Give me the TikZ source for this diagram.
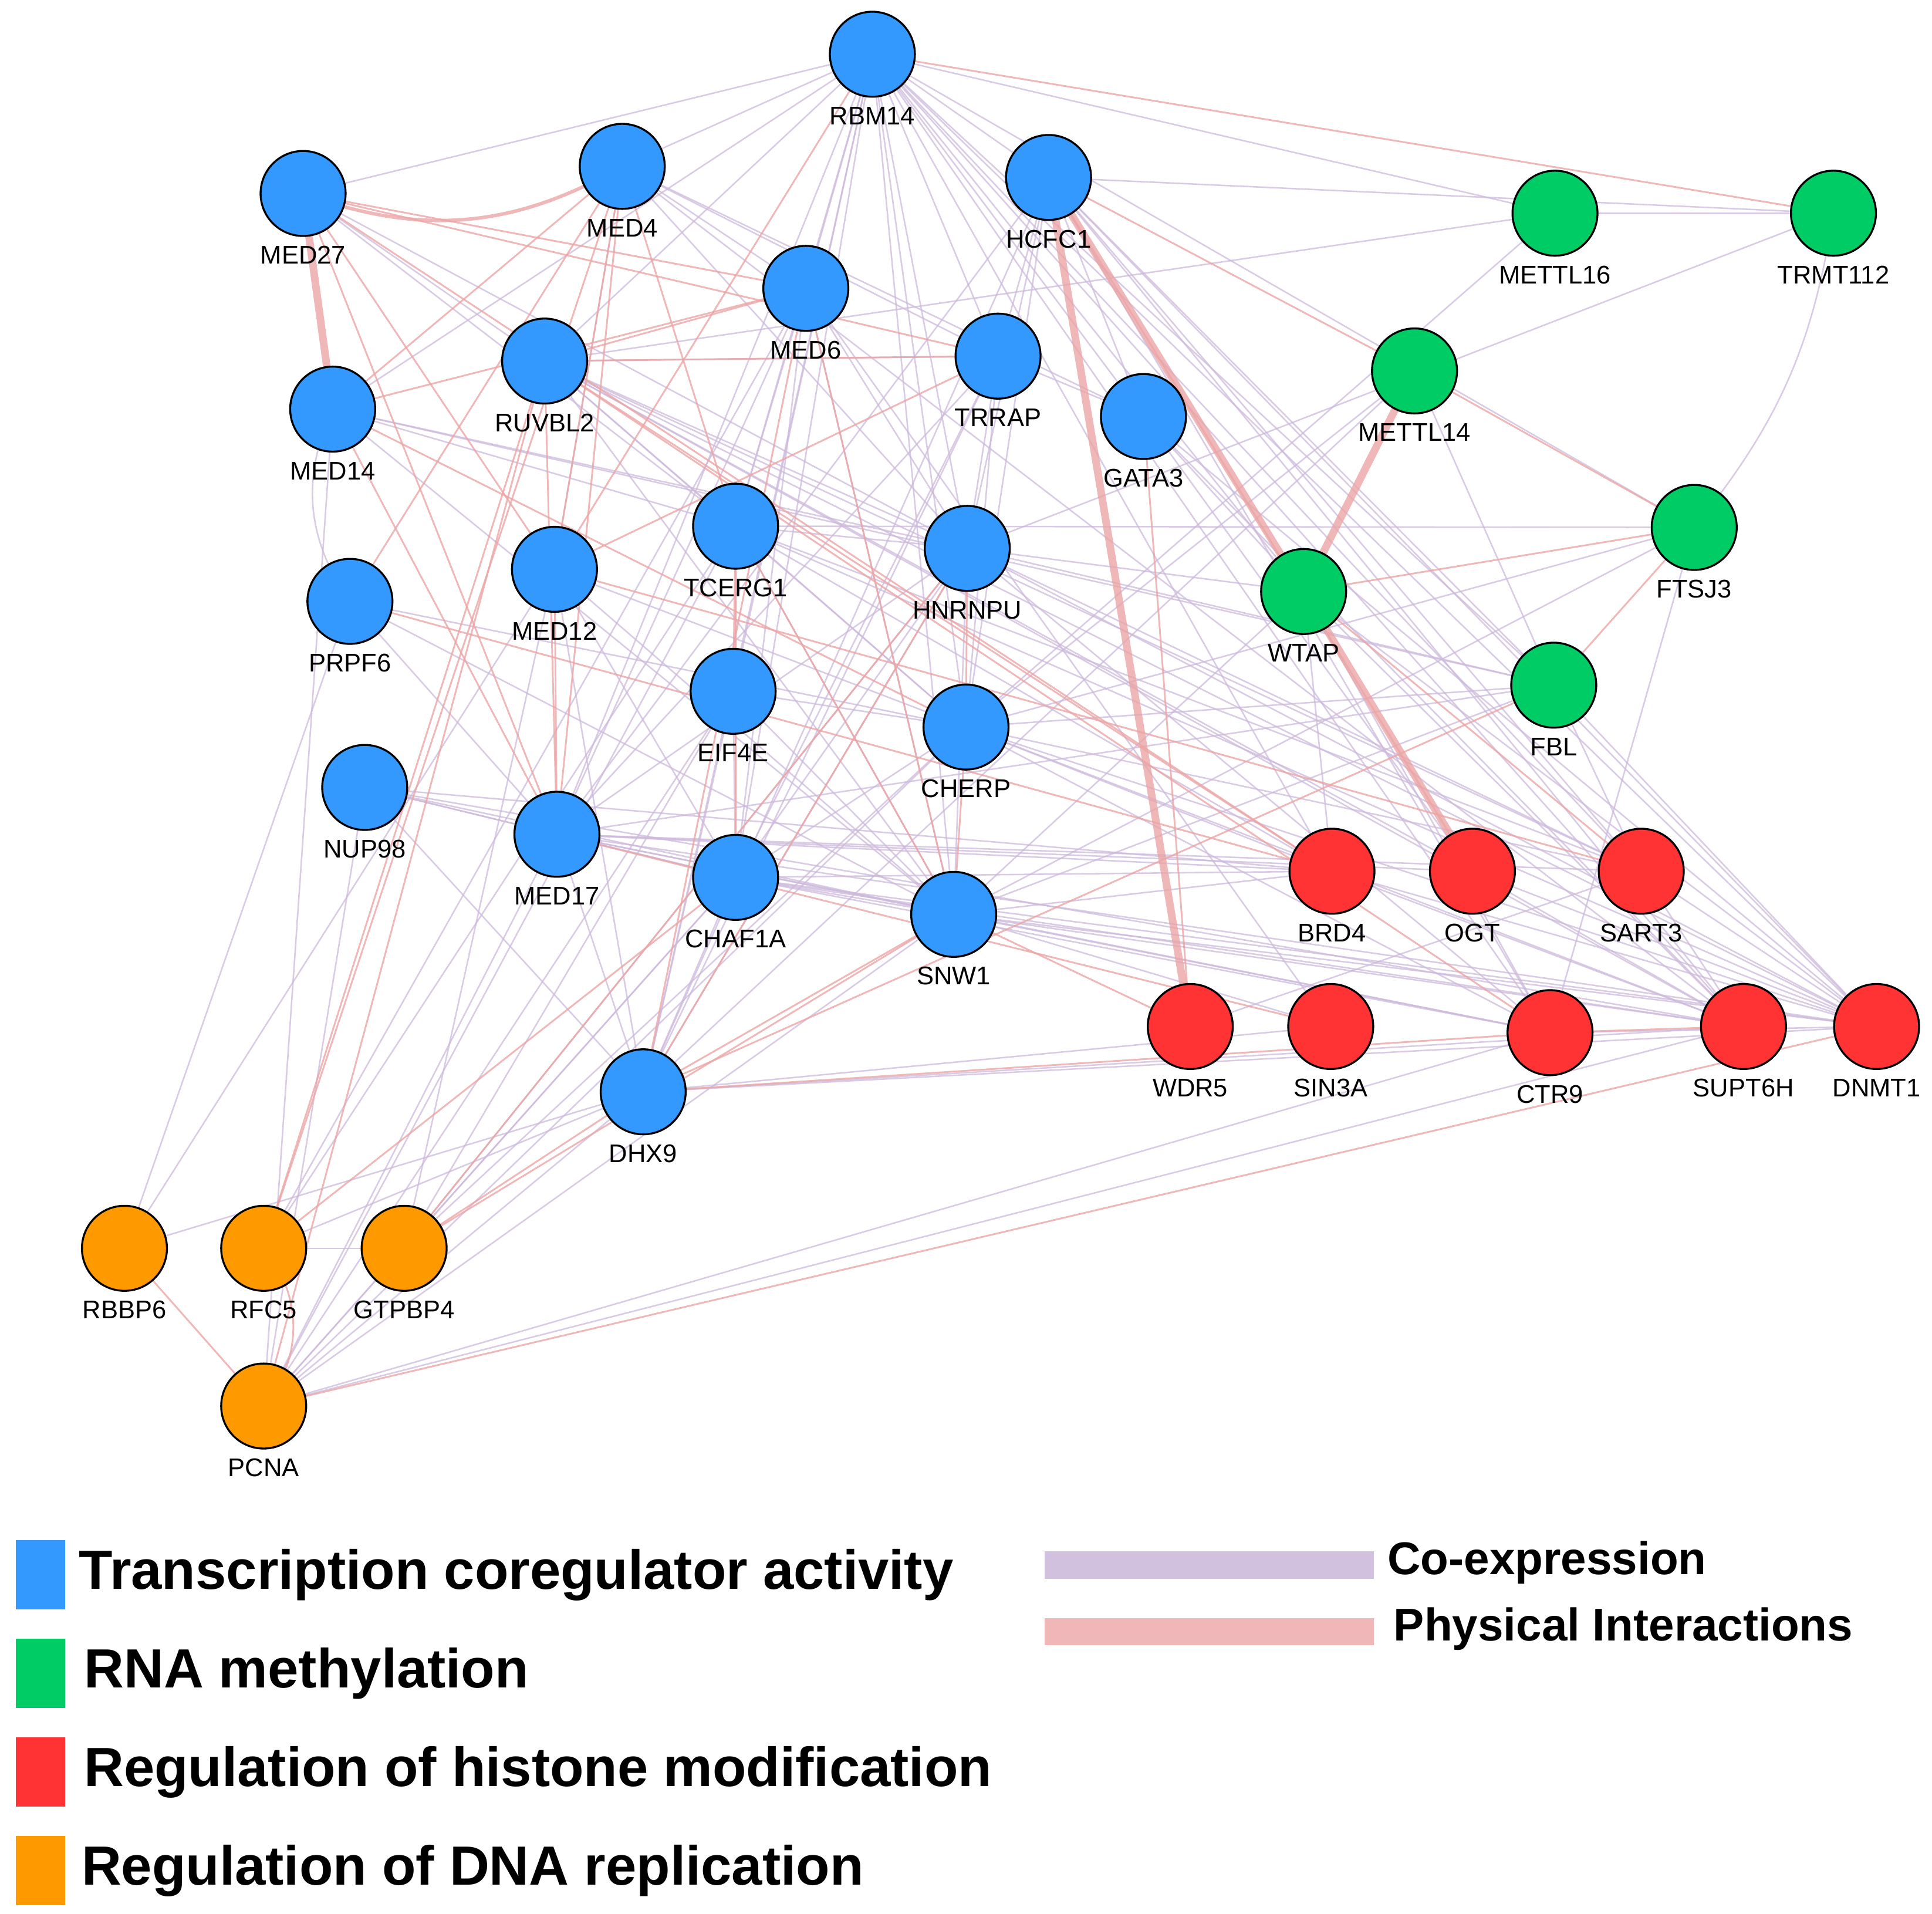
\documentclass[tikz,border=0pt]{standalone}
\usepackage{fontspec}
\setmainfont{Liberation Sans}
\begin{document}
\definecolor{cblue}{RGB}{51,153,255}
\definecolor{cgreen}{RGB}{0,204,102}
\definecolor{cred}{RGB}{255,51,51}
\definecolor{corange}{RGB}{255,153,0}
\definecolor{coex}{RGB}{205,185,220}
\definecolor{phys}{RGB}{235,165,165}
\begin{tikzpicture}[x=0.02cm,y=-0.02cm,
 gn/.style={circle,draw=black,line width=0.9pt,minimum size=1.38cm,inner sep=0pt},
 lab/.style={font=\fontsize{11.8}{13}\selectfont},
 co/.style={draw=coex,line width=0.7pt,opacity=0.75},
 ph/.style={draw=phys,line width=0.8pt,opacity=0.8},
 thk/.style={draw=phys,line width=3.5pt,opacity=0.8},
 leg/.style={font=\fontsize{25.5}{28}\selectfont\bfseries,anchor=west},
 leg2/.style={font=\fontsize{21.2}{24}\selectfont\bfseries,anchor=west}]
\useasboundingbox (0,0) rectangle (1568,1553);
\foreach \n/\x/\y in {RBM14/708/44,MED4/505/135,MED27/246/157,HCFC1/851/144,MED6/654/234,METTL16/1262/173,TRMT112/1488/173,RUVBL2/442/293,TRRAP/810/289,MED14/270/332,GATA3/928/338,METTL14/1148/301,TCERG1/597/427,HNRNPU/785/445,FTSJ3/1375/428,MED12/450/462,PRPF6/284/488,WTAP/1058/480,EIF4E/595/561,CHERP/784/590,FBL/1261/556,NUP98/296/639,MED17/452/677,CHAF1A/597/712,SNW1/774/742,BRD4/1081/707,OGT/1195/707,SART3/1332/707,WDR5/966/833,SIN3A/1080/833,CTR9/1258/838,SUPT6H/1415/833,DNMT1/1523/833,DHX9/522/886,RBBP6/101/1013,RFC5/214/1013,GTPBP4/328/1013,PCNA/214/1141}
 {\coordinate (\n) at (\x,\y);}
\begin{scope}
\foreach \a/\b in {RBM14/MED4,RBM14/MED27,RBM14/HCFC1,RBM14/MED6,RBM14/TRRAP,RBM14/RUVBL2,RBM14/TCERG1,RBM14/HNRNPU,RBM14/GATA3,RBM14/WTAP,RBM14/CHERP,RBM14/SNW1,RBM14/MED17,RBM14/CHAF1A,RBM14/BRD4,RBM14/SART3,RBM14/FBL,RBM14/DNMT1,RBM14/METTL16,RBM14/EIF4E,RBM14/MED14,RBM14/DHX9,RBM14/FTSJ3,RBM14/CTR9,RBM14/SUPT6H,
MED4/MED6,MED4/TRRAP,MED4/GATA3,MED4/MED12,MED4/HNRNPU,MED4/SUPT6H,MED27/RUVBL2,MED27/TCERG1,MED27/HNRNPU,
HCFC1/TRRAP,HCFC1/GATA3,HCFC1/CHERP,HCFC1/HNRNPU,HCFC1/SART3,HCFC1/DNMT1,HCFC1/CTR9,HCFC1/FBL,HCFC1/DHX9,HCFC1/MED17,HCFC1/SUPT6H,HCFC1/TRMT112,
MED6/TCERG1,MED6/HNRNPU,MED6/SNW1,MED6/MED17,MED6/CHAF1A,MED6/SIN3A,
RUVBL2/TCERG1,RUVBL2/HNRNPU,RUVBL2/SNW1,RUVBL2/CHERP,RUVBL2/OGT,RUVBL2/SUPT6H,RUVBL2/SART3,RUVBL2/DNMT1,RUVBL2/TRRAP,RUVBL2/METTL16,
TRRAP/HNRNPU,TRRAP/CHERP,TRRAP/CHAF1A,TRRAP/DHX9,TRRAP/MED17,TRRAP/GATA3,
MED14/TCERG1,MED14/HNRNPU,MED14/SNW1,MED14/FBL,
TCERG1/HNRNPU,TCERG1/CHERP,TCERG1/CHAF1A,TCERG1/SNW1,TCERG1/SART3,TCERG1/DNMT1,TCERG1/BRD4,TCERG1/FTSJ3,TCERG1/PCNA,TCERG1/RFC5,
HNRNPU/SNW1,HNRNPU/MED17,HNRNPU/CHAF1A,HNRNPU/WTAP,HNRNPU/FBL,HNRNPU/DNMT1,HNRNPU/SART3,HNRNPU/CTR9,HNRNPU/DHX9,HNRNPU/GTPBP4,
GATA3/WTAP,GATA3/SUPT6H,GATA3/OGT,GATA3/DNMT1,
METTL14/FBL,METTL14/CHERP,METTL14/DHX9,METTL16/TRMT112,METTL16/CHERP,TRMT112/HNRNPU,FTSJ3/CTR9,FTSJ3/CHERP,FTSJ3/SNW1,
WTAP/SNW1,WTAP/BRD4,WTAP/SUPT6H,WTAP/DNMT1,WTAP/CTR9,
FBL/SNW1,FBL/CHERP,FBL/MED17,FBL/SART3,FBL/DNMT1,
MED12/CHERP,MED12/SNW1,MED12/DHX9,MED12/CHAF1A,MED12/GTPBP4,
PRPF6/MED17,PRPF6/SNW1,PRPF6/CHERP,PRPF6/RBBP6,
EIF4E/CHAF1A,EIF4E/SNW1,EIF4E/DHX9,EIF4E/CHERP,EIF4E/PCNA,EIF4E/GTPBP4,
CHERP/CHAF1A,CHERP/BRD4,CHERP/SART3,CHERP/SUPT6H,CHERP/DNMT1,CHERP/CTR9,CHERP/GTPBP4,CHERP/PCNA,
NUP98/MED17,NUP98/CHAF1A,NUP98/SNW1,NUP98/BRD4,NUP98/DHX9,NUP98/PCNA,NUP98/SUPT6H,
MED17/CHAF1A,MED17/SNW1,MED17/BRD4,MED17/OGT,MED17/SART3,MED17/DHX9,MED17/PCNA,MED17/CTR9,MED17/DNMT1,
CHAF1A/SNW1,CHAF1A/BRD4,CHAF1A/DNMT1,CHAF1A/SUPT6H,CHAF1A/DHX9,CHAF1A/GTPBP4,CHAF1A/PCNA,CHAF1A/CTR9,
SNW1/BRD4,SNW1/SUPT6H,SNW1/DNMT1,SNW1/CTR9,SNW1/PCNA,SNW1/SIN3A,
BRD4/SUPT6H,BRD4/DNMT1,OGT/DNMT1,OGT/SUPT6H,SART3/SUPT6H,SART3/DNMT1,SART3/WDR5,CTR9/DNMT1,
DHX9/SUPT6H,DHX9/DNMT1,DHX9/PCNA,DHX9/RFC5,DHX9/RBBP6,DHX9/SIN3A,
GTPBP4/PCNA,GTPBP4/RFC5,PCNA/SUPT6H,PCNA/CTR9,RBBP6/MED12,RFC5/MED6,PCNA/MED14}
 {\draw[co] (\a) -- (\b);}
\foreach \a/\b in {RBM14/TRMT112,MED27/MED12,MED27/MED17,MED27/MED6,MED27/TRRAP,MED27/BRD4,MED4/MED14,MED4/MED12,MED4/MED17,MED4/RFC5,MED4/TCERG1,MED6/MED14,MED6/SNW1,MED6/DHX9,RUVBL2/RFC5,RUVBL2/PCNA,RUVBL2/BRD4,RUVBL2/CTR9,RUVBL2/MED6,MED14/MED17,MED14/CHERP,TCERG1/EIF4E,TCERG1/SNW1,TCERG1/CHAF1A,HNRNPU/CHERP,CHERP/SNW1,SNW1/DHX9,SNW1/WDR5,HNRNPU/DHX9,WTAP/FTSJ3,FBL/FTSJ3,FBL/DHX9,PCNA/DNMT1,PCNA/RBBP6,GTPBP4/HNRNPU,MED12/SART3,METTL14/FTSJ3,GATA3/WDR5,MED17/SIN3A,PRPF6/BRD4,TRRAP/RUVBL2,TRRAP/MED12,MED12/MED17,HCFC1/OGT,RUVBL2/MED17,SNW1/GTPBP4,DHX9/GTPBP4,CHAF1A/RFC5,HCFC1/METTL14,WTAP/SART3,DHX9/CTR9,CTR9/SUPT6H,PRPF6/MED4,RBM14/MED12}
 {\draw[ph] (\a) -- (\b);}
\draw[ph,line width=1.6pt] (MED27) to[bend right=25] (MED4);
\draw[co] (MED14) to[bend right=30] (PRPF6);
\draw[co] (TRMT112) to[bend left=15] (FTSJ3);
\draw[ph] (RFC5) to[bend left=40] (PCNA);
\foreach \a/\b in {HCFC1/WDR5,HCFC1/WTAP,METTL14/WTAP,WTAP/OGT,MED27/MED14}
 {\draw[thk] (\a) -- (\b);}
\end{scope}
\foreach \n/\c in {RBM14/cblue,MED4/cblue,MED27/cblue,HCFC1/cblue,MED6/cblue,METTL16/cgreen,TRMT112/cgreen,RUVBL2/cblue,TRRAP/cblue,MED14/cblue,GATA3/cblue,METTL14/cgreen,TCERG1/cblue,HNRNPU/cblue,FTSJ3/cgreen,MED12/cblue,PRPF6/cblue,WTAP/cgreen,EIF4E/cblue,CHERP/cblue,FBL/cgreen,NUP98/cblue,MED17/cblue,CHAF1A/cblue,SNW1/cblue,BRD4/cred,OGT/cred,SART3/cred,WDR5/cred,SIN3A/cred,CTR9/cred,SUPT6H/cred,DNMT1/cred,DHX9/cblue,RBBP6/corange,RFC5/corange,GTPBP4/corange,PCNA/corange}
 {\node[gn,fill=\c] (n\n) at (\n) {};
  \node[lab] (l\n) at ([yshift=-50*0.02cm]\n) {\n};}
% legend
\fill[cblue] (13,1250) rectangle (53,1306);
\fill[cgreen] (13,1330) rectangle (53,1386);
\fill[cred] (13,1410) rectangle (53,1466);
\fill[corange] (13,1490) rectangle (53,1546);
\node[leg] (t1) at (58,1278) {Transcription coregulator activity};
\node[leg] (t2) at (62,1358) {RNA methylation};
\node[leg] (t3) at (62,1438) {Regulation of histone modification};
\node[leg] (t4) at (60,1518) {Regulation of DNA replication};
\fill[coex!90!white] (848,1259) rectangle (1115,1281);
\fill[phys!80!white] (848,1313) rectangle (1115,1335);
\node[leg2] (t5) at (1120,1268) {Co-expression};
\node[leg2] (t6) at (1125,1322) {Physical Interactions};
\end{tikzpicture}
\end{document}
